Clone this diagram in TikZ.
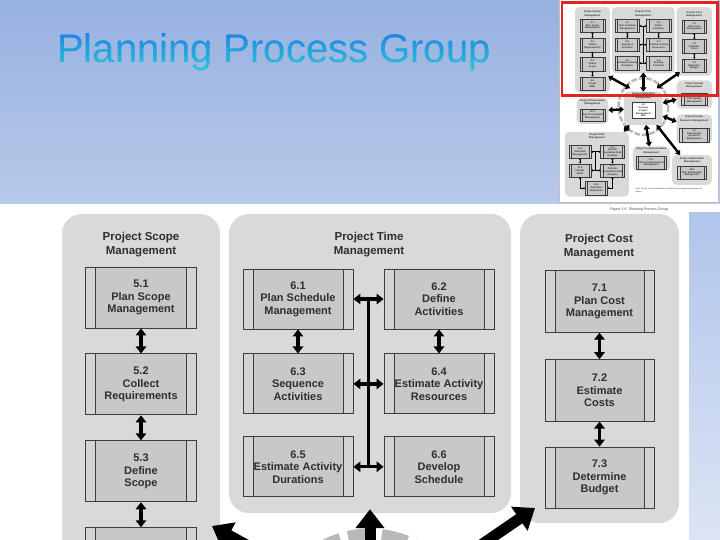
\documentclass[tikz,border=0pt]{standalone}
\usepackage{fontspec}
\setmainfont{Liberation Sans}
\usepackage{xcolor}
\usetikzlibrary{arrows.meta}
\usetikzlibrary{positioning}
\usetikzlibrary{calc}

\definecolor{bgtop}{HTML}{97B1E0}
\definecolor{bgbot}{HTML}{B7C9EA}
\definecolor{striptop}{HTML}{B0C5EB}
\definecolor{stripbot}{HTML}{DCE4F4}
\definecolor{panelgray}{HTML}{D9D9D9}
\definecolor{boxgray}{HTML}{C8C8C8}
\definecolor{stripgray}{HTML}{D3D3D3}
\definecolor{boxline}{HTML}{3C3C3C}
\definecolor{txtgray}{HTML}{2E2E2E}
\definecolor{ringgray}{HTML}{B9B9B9}
\definecolor{titletop}{HTML}{1C7FE4}
\definecolor{titlebot}{HTML}{2FD2D4}
\definecolor{redframe}{HTML}{E3231F}

\newcommand{\procfont}{\fontsize{11}{12.5}\selectfont\bfseries}
\newcommand{\ptitlefont}{\fontsize{11.5}{14}\selectfont\bfseries}

\tikzset{
  panel/.style={fill=panelgray, rounded corners=20pt, inner sep=0pt},
  paneltitle/.style={align=center, font=\ptitlefont, text=txtgray, inner sep=1pt},
  procbox/.style={draw=boxline, fill=boxgray, line width=0.9pt, minimum width=110pt,
    minimum height=61pt, inner sep=1pt, align=center, font=\procfont, text=txtgray,
    path picture={
      \fill[stripgray] (path picture bounding box.north west) rectangle ([xshift=10pt]path picture bounding box.south west);
      \fill[stripgray] (path picture bounding box.north east) rectangle ([xshift=-10pt]path picture bounding box.south east);
      \draw[boxline, line width=0.9pt] ([xshift=10pt]path picture bounding box.north west) -- ([xshift=10pt]path picture bounding box.south west);
      \draw[boxline, line width=0.9pt] ([xshift=-10pt]path picture bounding box.north east) -- ([xshift=-10pt]path picture bounding box.south east);
    }},
  docbox/.style={draw=boxline, fill=white, line width=0.8pt, minimum width=105pt,
    minimum height=72pt, inner sep=1pt, align=center, font=\procfont, text=txtgray},
  dblarrow/.style={draw=black, line width=3.3pt,
    {Triangle[width=10.5pt,length=7pt]}-{Triangle[width=10.5pt,length=7pt]}},
  busline/.style={draw=black, line width=3.3pt},
  bigarrow/.style={draw=black, line width=11pt,
    {Triangle[width=28pt,length=19pt]}-{Triangle[width=28pt,length=19pt]}},
  iterring/.style={draw=ringgray, line width=11pt, dash pattern=on 26pt off 8pt},
  titletext/.style={anchor=base west, inner sep=0pt, font=\fontsize{40}{40}\selectfont},
  captiontext/.style={font=\fontsize{3.6}{4}\selectfont, text=black!70, inner sep=0pt},
  notetext/.style={anchor=north west, text width=320pt, align=left, inner sep=0pt,
    font=\fontsize{9}{11}\selectfont, text=txtgray},
  thumbframe/.style={fill=white, draw=gray!50, line width=0.6pt},
  redbox/.style={draw=redframe, line width=2.8pt}
}

% upper part of the planning figure, in pixel units
\newcommand{\planfigtop}{%
  % iteration ring
  \draw[iterring] (370,662) ellipse [x radius=112, y radius=128];
  % panels
  \node[panel, minimum width=158pt, minimum height=386pt] (scopep) at (141,407) {};
  \node[panel, minimum width=282pt, minimum height=299pt] (timep) at (370,363.5) {};
  \node[panel, minimum width=159pt, minimum height=309pt] (costp) at (599.5,368.5) {};
  \node[panel, minimum width=174pt, minimum height=150pt] (intp) at (370,670) {};
  % panel titles
  \node[paneltitle] (scopet) at (141,245) {Project Scope\\Management};
  \node[paneltitle] (timet) at (369,245) {Project Time\\Management};
  \node[paneltitle] (costt) at (599,247) {Project Cost\\Management};
  % scope
  \node[procbox, minimum width=111pt] (s1) at (141,297.5) {5.1\\Plan Scope\\Management};
  \node[procbox, minimum width=111pt, below=25pt of s1] (s2) {5.2\\Collect\\Requirements};
  \node[procbox, minimum width=111pt, below=25pt of s2] (s3) {5.3\\Define\\Scope};
  \node[procbox, minimum width=111pt, below=25pt of s3] (s4) {5.4\\Create\\WBS};
  \draw[dblarrow] (s1) -- (s2);
  \draw[dblarrow] (s2) -- (s3);
  \draw[dblarrow] (s3) -- (s4);
  % time
  \node[procbox, minimum height=60pt] (t1) at (298,299) {6.1\\Plan Schedule\\Management};
  \node[procbox, minimum height=60pt] (t2) at (439,299) {6.2\\Define\\Activities};
  \node[procbox, minimum height=60pt, below=24pt of t1] (t3) {6.3\\Sequence\\Activities};
  \node[procbox, minimum height=60pt, below=24pt of t2] (t4) {6.4\\Estimate Activity\\Resources};
  \node[procbox, minimum height=60pt, below=22pt of t3] (t5) {6.5\\Estimate Activity\\Durations};
  \node[procbox, minimum height=60pt, below=22pt of t4] (t6) {6.6\\Develop\\Schedule};
  \coordinate (bustop) at ($(t1.east)!.5!(t2.west)$);
  \coordinate (busbot) at ($(t5.east)!.5!(t6.west)$);
  \draw[busline] (bustop) -- (busbot);
  \draw[dblarrow] (t1) -- (t2);
  \draw[dblarrow] (t3) -- (t4);
  \draw[dblarrow] (t5) -- (t6);
  \draw[dblarrow] (t1) -- (t3);
  \draw[dblarrow] (t2) -- (t4);
  % cost
  \node[procbox, minimum width=109pt, minimum height=61.5pt] (c1) at (599.5,301.5) {7.1\\Plan Cost\\Management};
  \node[procbox, minimum width=109pt, minimum height=61.5pt, below=26.5pt of c1] (c2) {7.2\\Estimate\\Costs};
  \node[procbox, minimum width=109pt, minimum height=61.5pt, below=25pt of c2] (c3) {7.3\\Determine\\Budget};
  \draw[dblarrow] (c1) -- (c2);
  \draw[dblarrow] (c2) -- (c3);
  % links from the integration panel
  \coordinate (scopetip) at (212,526);
  \coordinate (scopetail) at (310,580);
  \coordinate (costtip) at (535,508);
  \coordinate (costtail) at (430,580);
  \draw[bigarrow] (scopetail) -- (scopetip);
  \draw[bigarrow] (intp.north) -- ([yshift=4pt]timep.south);
  \draw[bigarrow] (costtail) -- (costtip);
}

% lower part, only seen in the thumbnail
\newcommand{\planfigbottom}{%
  \node[panel, minimum width=159pt, minimum height=127pt] (qualp) at (599.5,608.5) {};
  \node[panel, minimum width=159pt, minimum height=130pt] (hrp) at (599.5,763) {};
  \node[panel, minimum width=142pt, minimum height=115pt] (procp) at (141,682.5) {};
  \node[panel, minimum width=166pt, minimum height=110pt] (commp) at (406,897) {};
  \node[panel, minimum width=180pt, minimum height=134pt] (stakep) at (589,948) {};
  \node[panel, minimum width=288pt, minimum height=292pt] (riskp) at (161,922) {};
  \node[paneltitle] (intt) at (370,614) {Project Integration\\Management};
  \node[paneltitle] (qualt) at (599.5,566) {Project Quality\\Management};
  \node[paneltitle] (hrt) at (599.5,718) {Project Human\\Resource Management};
  \node[paneltitle] (proct) at (141,645) {Project Procurement\\Management};
  \node[paneltitle] (commt) at (406,862) {Project Communications\\Management};
  \node[paneltitle] (staket) at (589,905) {Project Stakeholder\\Management};
  \node[paneltitle] (riskt) at (161,797) {Project Risk\\Management};
  % integration
  \node[docbox] (i1) at (370,680) {4.2\\Develop\\Project\\Management\\Plan};
  % quality, human resource, procurement
  \node[procbox, minimum width=116pt, minimum height=56pt] (q1) at (599.5,628) {8.1\\Plan Quality\\Management};
  \node[procbox, minimum width=134pt, minimum height=64pt] (h1) at (599.5,790) {9.1\\Plan Human\\Resource\\Management};
  \node[procbox, minimum width=116pt, minimum height=56pt] (p1) at (141,700) {12.1\\Plan Procurement\\Management};
  % communications, stakeholder
  \node[procbox, minimum width=136pt, minimum height=56pt] (m1) at (406,915) {10.1\\Plan Communications\\Management};
  \node[procbox, minimum width=130pt, minimum height=58pt] (k1) at (589,960) {13.2\\Plan Stakeholder\\Management};
  % risk
  \node[procbox, minimum width=100pt] (r1) at (85,866) {11.1\\Plan Risk\\Management};
  \node[procbox, minimum width=100pt] (r2) at (85,950) {11.2\\Identify\\Risks};
  \node[procbox, minimum width=108pt] (r3) at (231,866) {11.3\\Perform\\Qualitative Risk\\Analysis};
  \node[procbox, minimum width=108pt] (r4) at (231,950) {11.4\\Perform\\Quantitative Risk\\Analysis};
  \node[procbox, minimum width=100pt] (r5) at (158,1030) {11.5\\Plan Risk\\Responses};
  \draw[busline] ($(r1.east)!.5!(r3.west)$) -- ($(r2.east)!.5!(r4.west)$);
  \draw[dblarrow] (r1) -- (r3);
  \draw[dblarrow] (r2) -- (r4);
  \draw[dblarrow] (r1) -- (r2);
  \draw[dblarrow] (r3) -- (r4);
  \draw[dblarrow] (r2.south) |- (r5.west);
  \draw[dblarrow] (r4.south) |- (r5.east);
  \node[notetext] (note) at (335,1030) {Note: Not all process interactions and data flow among the processes are shown.};
  % links to the integration panel
  \draw[bigarrow] (intp) -- (qualp);
  \draw[bigarrow] (intp) -- (hrp);
  \draw[bigarrow] (intp) -- (commp);
  \draw[bigarrow] (intp) -- (stakep);
  \draw[bigarrow] (intp) -- (riskp);
  \draw[bigarrow] (procp) -- (intp);
}

\begin{document}
\begin{tikzpicture}[x=1pt,y=-1pt]
\useasboundingbox (0,0) rectangle (720,540);
% slide background
\shade[top color=bgtop, bottom color=bgbot] (0,0) rectangle (720,204);
\fill[white] (0,204) rectangle (720,540);
\shade[top color=striptop, bottom color=stripbot] (689,213) rectangle (720,540);
% title, blue to cyan
\foreach \i [evaluate=\i as \pct using int(7.7*\i)] in {0,...,13} {
  \begin{scope}
    \clip (40,{30+3.4*\i}) rectangle (520,{34+3.4*\i});
    \node[titletext, text=titlebot!\pct!titletop] (title) at (57,63) {Planning Process Group};
  \end{scope}
}
% thumbnail of the whole figure
\draw[thumbframe] (559.5,-2) rectangle (718.5,202.5);
\begin{scope}[transform canvas={shift={(561.2,-40.5)}, scale=0.222}]
  \planfigtop
  \planfigbottom
\end{scope}
\draw[redbox] (562,2.2) rectangle (717.8,95.8);
\node[captiontext] (caption) at (639,209.5) {Figure 3-6. Planning Process Group};
% zoomed part of the figure
\begin{scope}
  \clip (0,204) rectangle (689,540);
  \planfigtop
\end{scope}
\end{tikzpicture}
\end{document}
